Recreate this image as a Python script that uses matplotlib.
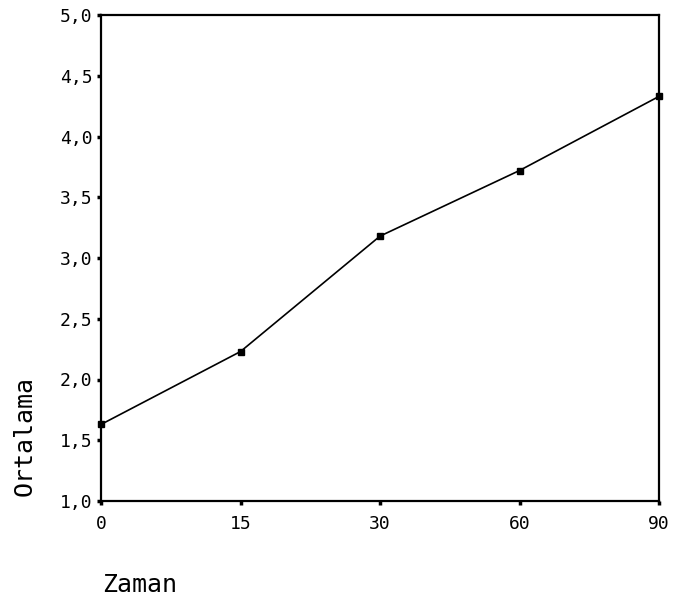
import matplotlib
matplotlib.use("Agg")
import matplotlib.pyplot as plt
from matplotlib.ticker import FuncFormatter

zaman = ["0", "15", "30", "60", "90"]
ortalama = [1.63, 2.23, 3.18, 3.72, 4.33]
y_ticks = [1.0, 1.5, 2.0, 2.5, 3.0, 3.5, 4.0, 4.5, 5.0]

plt.rcParams['font.family'] = ['DejaVu Sans Mono']

fig = plt.figure(figsize=(6.73, 6.02), dpi=100)
ax = fig.add_axes([101 / 673, 1 - 501 / 602, 558 / 673, 486 / 602])

xs = list(range(len(zaman)))
ax.plot(xs, ortalama, color="black", lw=1.2, marker="s", ms=4,
        mfc="black", mec="black", clip_on=False, zorder=3)

ax.set_xlim(0, len(zaman) - 1)
ax.set_ylim(1, 5)
ax.set_xticks(xs)
ax.set_xticklabels(zaman)
ax.set_yticks(y_ticks)
ax.yaxis.set_major_formatter(FuncFormatter(lambda v, p: f"{v:.1f}".replace(".", ",")))

for s in ax.spines.values():
    s.set_linewidth(1.6)
    s.set_color("black")

ax.tick_params(axis="both", direction="out", length=3, width=2.5, labelsize=13, colors="black")
ax.tick_params(axis="y", pad=3)
ax.tick_params(axis="x", pad=7)

fig.text(25 / 673, 1 - 436 / 602, "Ortalama", rotation=90, fontsize=18,
         ha="center", va="center")
fig.text(102 / 673, 1 - 585 / 602, "Zaman", fontsize=18, ha="left", va="center")

fig.savefig("out.png", dpi=100)
